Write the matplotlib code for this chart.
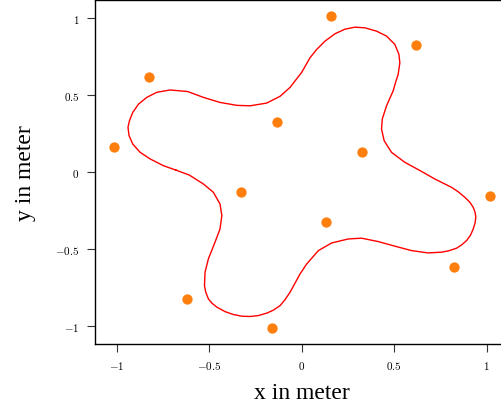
import matplotlib
matplotlib.use("Agg")
import matplotlib.pyplot as plt

# closed curve (data units)
curve_x = [-0.680, -0.748, -0.820, -0.874, -0.914, -0.934, -0.940, -0.932, -0.914, -0.883,
           -0.838, -0.784, -0.712, -0.617, -0.532, -0.442, -0.351, -0.279, -0.189, -0.117,
           -0.063, 0.000, 0.045, 0.081, 0.126, 0.180, 0.234, 0.288, 0.342, 0.405,
           0.459, 0.504, 0.526, 0.531, 0.522, 0.510, 0.495, 0.459, 0.436, 0.432,
           0.446, 0.486, 0.558, 0.639, 0.721, 0.811, 0.846, 0.883, 0.910, 0.928,
           0.938, 0.942, 0.938, 0.928, 0.914, 0.892, 0.865, 0.838, 0.796, 0.757,
           0.684, 0.595, 0.504, 0.414, 0.324, 0.252, 0.162, 0.090, 0.027, -0.009,
           -0.063, -0.090, -0.117, -0.154, -0.189, -0.235, -0.279, -0.324, -0.370, -0.415,
           -0.459, -0.486, -0.505, -0.519, -0.526, -0.523, -0.505, -0.469, -0.442, -0.432,
           -0.442, -0.478, -0.532, -0.608, -0.680]
curve_y = [0.012, 0.041, 0.085, 0.128, 0.182, 0.236, 0.291, 0.334, 0.388, 0.442,
           0.486, 0.519, 0.534, 0.524, 0.486, 0.453, 0.434, 0.431, 0.449, 0.493,
           0.551, 0.649, 0.744, 0.798, 0.852, 0.900, 0.930, 0.943, 0.939, 0.917,
           0.885, 0.831, 0.766, 0.711, 0.636, 0.592, 0.529, 0.431, 0.345, 0.280,
           0.204, 0.128, 0.063, 0.010, -0.046, -0.100, -0.128, -0.165, -0.197, -0.230,
           -0.262, -0.295, -0.332, -0.371, -0.410, -0.447, -0.475, -0.496, -0.513, -0.522,
           -0.527, -0.512, -0.483, -0.453, -0.431, -0.436, -0.462, -0.512, -0.599, -0.664,
           -0.783, -0.831, -0.870, -0.900, -0.919, -0.935, -0.941, -0.939, -0.928, -0.909,
           -0.880, -0.854, -0.826, -0.783, -0.740, -0.653, -0.566, -0.457, -0.371, -0.284,
           -0.208, -0.132, -0.078, -0.020, 0.012]

# orange points
pts_x = [0.158, 0.619, -0.824, -0.135, -1.018, 0.328, -0.328, 1.018, 0.133, 0.825, -0.620, -0.161]
pts_y = [1.017, 0.826, 0.620, 0.327, 0.161, 0.132, -0.132, -0.158, -0.327, -0.620, -0.824, -1.019]

ticks = [-1, -0.5, 0, 0.5, 1]
tick_labels = ["$-1$", "$-0.5$", "$0$", "$0.5$", "$1$"]

plt.rcParams["mathtext.fontset"] = "cm"

fig = plt.figure(figsize=(5.01, 4.10), dpi=100)
ax = fig.add_axes([94.7 / 501, 65 / 410, 414 / 501, 344 / 410])

ax.plot(curve_x, curve_y, color="#ff0000", lw=1.0, solid_joinstyle="round")
ax.scatter(pts_x, pts_y, s=55, color="#ff7f0e", zorder=3, linewidths=0)

ax.set_xlim(-1.12, 1.12)
ax.set_ylim(-1.12, 1.12)
ax.set_xticks(ticks)
ax.set_xticklabels(tick_labels)
ax.set_yticks(ticks)
ax.set_yticklabels(tick_labels)
ax.tick_params(direction="out", length=6, width=0.8, color="#333333",
               labelsize=8, pad=5)
for s in ax.spines.values():
    s.set_linewidth(1.0)

ax.set_xlabel("x in meter", fontsize=17, family="Liberation Serif", labelpad=8)
ax.set_ylabel("y in meter", fontsize=17, family="Liberation Serif", labelpad=14)

fig.savefig("out.png", dpi=100)
